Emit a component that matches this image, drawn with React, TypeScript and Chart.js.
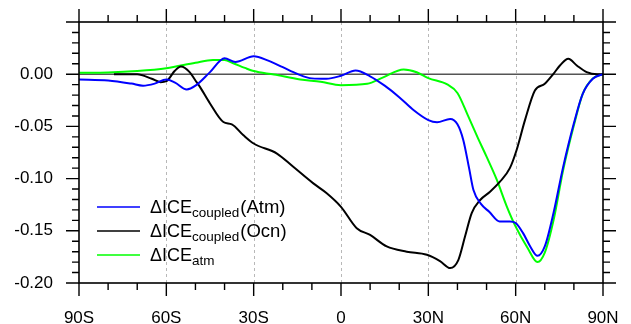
import React, { useEffect, useRef } from "react";
import { Chart, registerables } from "chart.js";

Chart.register(...registerables);

// ---- data ----
const latAtmCoupled = [-90, -80, -72, -68, -64, -60, -57, -53, -50, -45, -40, -36.3, -30, -25, -20, -15, -10, -5, 0, 5, 10, 15, 20, 25, 30, 33, 37.5, 40, 42, 44, 45.5, 48, 51, 54.5, 58, 60, 62.5, 65, 67.5, 70, 73, 76.3, 80, 83, 86.5, 90];
const valAtmCoupled = [-0.005, -0.006, -0.009, -0.011, -0.009, -0.005, -0.008, -0.0146, -0.011, 0.002, 0.0153, 0.0118, 0.0172, 0.013, 0.0067, 0.0003, -0.004, -0.0044, -0.0015, 0.0035, -0.002, -0.011, -0.022, -0.0346, -0.044, -0.046, -0.043, -0.048, -0.063, -0.09, -0.111, -0.124, -0.132, -0.141, -0.141, -0.1425, -0.152, -0.165, -0.174, -0.165, -0.133, -0.089, -0.047, -0.019, -0.0044, 0];

const latOcnCoupled = [-78, -70, -65, -62, -60, -57, -55, -52, -50, -48.4, -45, -40.4, -37.5, -33.5, -30, -22, -16.4, -9.5, -4.9, 0, 5.4, 10, 15.7, 22.6, 29.5, 34, 37.5, 40.3, 42.6, 44.9, 47.8, 51.2, 54.6, 58, 60.3, 63.2, 66.6, 70, 72.9, 75.2, 78.1, 81, 84.4, 88, 90];
const valOcnCoupled = [0, 0, -0.0044, -0.0076, -0.0067, 0.0035, 0.0073, 0.002, -0.006, -0.0124, -0.028, -0.0458, -0.048, -0.0585, -0.0664, -0.076, -0.0887, -0.1046, -0.114, -0.127, -0.1475, -0.154, -0.165, -0.17, -0.173, -0.179, -0.1857, -0.178, -0.1555, -0.133, -0.1205, -0.1126, -0.103, -0.09, -0.0728, -0.044, -0.0156, -0.0092, 0, 0.0083, 0.0147, 0.0083, 0.002, 0, 0];

const latAtm = [-90, -80, -70, -60, -50, -44, -40, -37, -33, -30, -23, -14, -7, 0, 9, 14.5, 21.5, 26, 30, 36.5, 40, 43.5, 47, 50, 53.5, 57, 60, 64, 67.5, 70, 73, 76.3, 80, 83, 86.5, 90];
const valAtm = [0.0013, 0.0016, 0.003, 0.0057, 0.011, 0.0137, 0.0135, 0.0105, 0.006, 0.003, -0.0003, -0.005, -0.0073, -0.0105, -0.0092, -0.003, 0.0045, 0.0019, -0.0038, -0.0098, -0.018, -0.039, -0.061, -0.079, -0.101, -0.127, -0.146, -0.166, -0.18, -0.171, -0.14, -0.092, -0.049, -0.019, -0.004, 0];

const xTickValues = [-90, -60, -30, 0, 30, 60, 90];
const xTickLabels = ["90S", "60S", "30S", "0", "30N", "60N", "90N"];
const yTickValues = [-0.2, -0.15, -0.1, -0.05, 0];
const yTickLabels = ["-0.20", "-0.15", "-0.10", "-0.05", "0.00"];
const gridLats = [-60, -30, 0, 30, 60];

const legendMain = ["ΔICE", "ΔICE", "ΔICE"];
const legendSub = ["coupled", "coupled", "atm"];
const legendSuffix = ["(Atm)", "(Ocn)", ""];
const seriesColors = ["#0000ff", "#000000", "#00ff00"];

const FONT = '"Liberation Sans", Arial, Helvetica, sans-serif';

const toPoints = (xs: number[], ys: number[]) => xs.map((x, i) => ({ x, y: ys[i] }));

const framePlugin = {
  id: "frame",
  beforeDatasetsDraw(chart: any) {
    const { ctx, chartArea: a, scales } = chart;
    const x = scales.x, y = scales.y;
    ctx.save();
    ctx.strokeStyle = "#b8b8b8";
    ctx.lineWidth = 1;
    ctx.setLineDash([3, 3]);
    for (const v of gridLats) {
      const px = Math.round(x.getPixelForValue(v)) + 0.5;
      ctx.beginPath();
      ctx.moveTo(px, a.top);
      ctx.lineTo(px, a.bottom);
      ctx.stroke();
    }
    ctx.setLineDash([]);
    ctx.strokeStyle = "#555555";
    ctx.lineWidth = 1.6;
    const py0 = y.getPixelForValue(0);
    ctx.beginPath();
    ctx.moveTo(a.left, py0);
    ctx.lineTo(a.right, py0);
    ctx.stroke();
    ctx.restore();
  },
  afterDraw(chart: any) {
    const { ctx, chartArea: a, scales } = chart;
    const x = scales.x, y = scales.y;
    ctx.save();
    ctx.strokeStyle = "#000";
    ctx.lineWidth = 1.6;
    ctx.strokeRect(a.left, a.top, a.right - a.left, a.bottom - a.top);
    ctx.lineWidth = 1.4;
    const major = 13, minor = 7;
    for (let v = -90; v <= 90; v += 10) {
      const len = v % 30 === 0 ? major : minor;
      const px = x.getPixelForValue(v);
      ctx.beginPath();
      ctx.moveTo(px, a.bottom);
      ctx.lineTo(px, a.bottom + len);
      ctx.moveTo(px, a.top);
      ctx.lineTo(px, a.top - len);
      ctx.stroke();
    }
    for (let i = -20; i <= 5; i++) {
      const v = i / 100;
      const len = i % 5 === 0 ? major : minor;
      const py = y.getPixelForValue(v);
      ctx.beginPath();
      ctx.moveTo(a.left, py);
      ctx.lineTo(a.left - len, py);
      ctx.moveTo(a.right, py);
      ctx.lineTo(a.right + len, py);
      ctx.stroke();
    }
    // legend
    const lx0 = a.left + 18, lx1 = a.left + 61, tx = a.left + 71;
    const rows = [a.top + 185, a.top + 209, a.top + 233];
    for (let i = 0; i < rows.length; i++) {
      const ry = rows[i];
      ctx.strokeStyle = seriesColors[i];
      ctx.lineWidth = 1.5;
      ctx.beginPath();
      ctx.moveTo(lx0, ry);
      ctx.lineTo(lx1, ry);
      ctx.stroke();
      ctx.fillStyle = "#000";
      ctx.textBaseline = "alphabetic";
      ctx.textAlign = "left";
      const base = ry + 6;
      ctx.font = `18px ${FONT}`;
      ctx.fillText(legendMain[i], tx, base);
      let cx = tx + ctx.measureText(legendMain[i]).width;
      ctx.font = `13.5px ${FONT}`;
      ctx.fillText(legendSub[i], cx, base + 4);
      cx += ctx.measureText(legendSub[i]).width + 1;
      if (legendSuffix[i]) {
        ctx.font = `18.5px ${FONT}`;
        ctx.fillText(legendSuffix[i], cx, base);
      }
    }
    ctx.restore();
  },
};

export default function App() {
  const ref = useRef<HTMLCanvasElement | null>(null);
  useEffect(() => {
    if (!ref.current) return;
    const mk = (lat: number[], val: number[], color: string) => ({
      data: toPoints(lat, val),
      borderColor: color,
      backgroundColor: color,
      borderWidth: 2,
      pointRadius: 0,
      showLine: true,
      fill: false,
      cubicInterpolationMode: "monotone" as const,
    });
    const chart = new Chart(ref.current, {
      type: "scatter",
      data: {
        datasets: [
          mk(latAtmCoupled, valAtmCoupled, seriesColors[0]),
          mk(latOcnCoupled, valOcnCoupled, seriesColors[1]),
          mk(latAtm, valAtm, seriesColors[2]),
        ],
      },
      options: {
        animation: false,
        responsive: false,
        devicePixelRatio: 1,
        layout: { padding: { top: 22, right: 28, left: 0, bottom: 0 } },
        plugins: { legend: { display: false }, tooltip: { enabled: false } },
        scales: {
          x: {
            type: "linear",
            min: -90,
            max: 90,
            afterFit: (s: any) => { s.height = 41; s.paddingLeft = 0; s.paddingRight = 0; },
            afterBuildTicks: (s: any) => { s.ticks = xTickValues.map((v) => ({ value: v })); },
            grid: { display: false, drawTicks: false },
            border: { display: false },
            ticks: {
              padding: 25,
              color: "#000",
              maxRotation: 0,
              autoSkip: false,
              font: { family: FONT, size: 17 },
              callback: (v: any) => { const i = xTickValues.indexOf(Number(v)); return i >= 0 ? xTickLabels[i] : ""; },
            },
          },
          y: {
            type: "linear",
            min: -0.2,
            max: 0.05,
            afterFit: (s: any) => { s.width = 79; s.paddingTop = 0; s.paddingBottom = 0; },
            afterBuildTicks: (s: any) => { s.ticks = yTickValues.map((v) => ({ value: v })); },
            grid: { display: false, drawTicks: false },
            border: { display: false },
            ticks: {
              padding: 26,
              color: "#000",
              autoSkip: false,
              font: { family: FONT, size: 17 },
              callback: (_v: any, i: number) => yTickLabels[i] ?? "",
            },
          },
        },
      },
      plugins: [framePlugin],
    });
    return () => chart.destroy();
  }, []);
  return (
    <div style={{ position: "absolute", left: 0, top: 0, width: 631, height: 324, background: "#fff" }}>
      <canvas ref={ref} width={631} height={324} style={{ display: "block" }} />
    </div>
  );
}
